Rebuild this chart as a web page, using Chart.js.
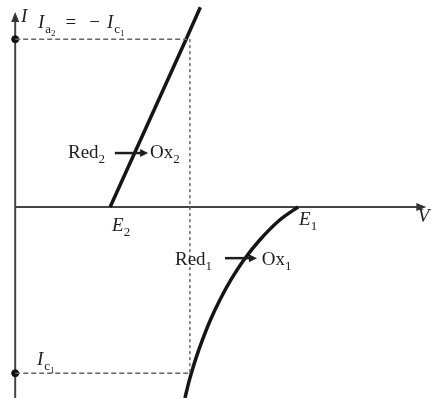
<!DOCTYPE html>
<html>
<head>
<meta charset="utf-8">
<script src="https://cdn.jsdelivr.net/npm/chart.js@4"></script>
<style>
  body { margin: 0; background: #fff; }
  canvas { display: block; }
</style>
</head>
<body>
<canvas id="myChart" width="432" height="398"></canvas>
<script>
// potentials (V) and currents (I) of the two couples
var E2 = 1.0, E1 = 2.98;
var Vmix = 1.84, Ia2 = 2.1, Ic1 = -2.08;

// Red2 -> Ox2 : straight anodic line
var line2V = [1.0, 1.8, 1.95];
var line2I = [0, 2.1, 2.5];

// Red1 -> Ox1 : cathodic curve from E1 going down
var curve1V = [2.98, 2.789, 2.578, 2.41, 2.273, 2.157, 2.057, 1.973, 1.899, 1.836, 1.788];
var curve1I = [0, -0.16, -0.41, -0.66, -0.91, -1.16, -1.41, -1.66, -1.91, -2.16, -2.39];

var xMin = -0.16, xMax = 4.39, yMin = -2.39, yMax = 2.59;
var fontFam = '"Liberation Serif", "DejaVu Serif", serif';

function pts(xs, ys) {
    return xs.map(function (x, i) { return { x: x, y: ys[i] }; });
}

// text pieces: lv 0 = normal, 1 = subscript, 2 = sub-subscript
var labels = [
    { v: 0.06, i: 2.31, runs: [{ t: 'I', it: true }] },
    { v: 0.24, i: 2.24, runs: [{ t: 'I', it: true, gap: 1 }, { t: 'a', lv: 1 }, { t: '2', lv: 2, gap: 10 }, { t: '=', gap: 13 }, { t: '\u2212', gap: 7 }, { t: 'I', it: true, gap: 1 }, { t: 'c', lv: 1 }, { t: '1', lv: 2 }] },
    { v: 0.23, i: -1.975, runs: [{ t: 'I', it: true, gap: 1 }, { t: 'c', lv: 1 }, { t: '1', lv: 2 }] },
    { v: 0.556, i: 0.6125, runs: [{ t: 'Red' }, { t: '2', lv: 1 }] },
    { v: 1.42, i: 0.6125, runs: [{ t: 'Ox' }, { t: '2', lv: 1 }] },
    { v: 1.683, i: -0.725, runs: [{ t: 'Red' }, { t: '1', lv: 1 }] },
    { v: 2.596, i: -0.725, runs: [{ t: 'Ox' }, { t: '1', lv: 1 }] },
    { v: 1.02, i: -0.3, runs: [{ t: 'E', it: true }, { t: '2', lv: 1 }] },
    { v: 2.99, i: -0.22, runs: [{ t: 'E', it: true }, { t: '1', lv: 1 }] },
    { v: 4.24, i: -0.19, runs: [{ t: 'V', it: true }] }
];

// small reaction arrows [from V, to V, at I]
var arrows = [
    [1.05, 1.40, 0.675],
    [2.21, 2.546, -0.64]
];

function drawRuns(ctx, x, y, runs) {
    var cx = x;
    runs.forEach(function (r) {
        var lv = r.lv || 0;
        var size = [19, 13, 9][lv];
        var dy = [0, 5, 8][lv];
        ctx.font = (r.it ? 'italic ' : '') + size + 'px ' + fontFam;
        ctx.fillText(r.t, cx, y + dy);
        cx += ctx.measureText(r.t).width + (r.gap || 0);
    });
}

function arrowHead(ctx, x, y, dir, len, half) {
    ctx.beginPath();
    if (dir === 'right') {
        ctx.moveTo(x, y);
        ctx.lineTo(x - len, y - half);
        ctx.lineTo(x - len, y + half);
    } else {
        ctx.moveTo(x, y);
        ctx.lineTo(x - half, y + len);
        ctx.lineTo(x + half, y + len);
    }
    ctx.closePath();
    ctx.fill();
}

var diagramPlugin = {
    id: 'diagram',
    beforeDatasetsDraw: function (chart) {
        var ctx = chart.ctx;
        var sx = chart.scales.x, sy = chart.scales.y;
        var ox = sx.getPixelForValue(0), oy = sy.getPixelForValue(0);
        ctx.save();
        ctx.strokeStyle = '#444';
        ctx.fillStyle = '#333';
        ctx.lineWidth = 2;
        // V axis
        var xEnd = sx.getPixelForValue(4.33);
        ctx.beginPath();
        ctx.moveTo(ox, oy);
        ctx.lineTo(xEnd - 6, oy);
        ctx.stroke();
        arrowHead(ctx, xEnd, oy, 'right', 10, 4);
        // I axis
        var yEnd = sy.getPixelForValue(2.44);
        ctx.beginPath();
        ctx.moveTo(ox, sy.getPixelForValue(yMin));
        ctx.lineTo(ox, yEnd + 6);
        ctx.stroke();
        arrowHead(ctx, ox, yEnd, 'up', 10, 4);
        ctx.restore();
    },
    afterDatasetsDraw: function (chart) {
        var ctx = chart.ctx;
        var sx = chart.scales.x, sy = chart.scales.y;
        ctx.save();
        ctx.fillStyle = '#1e1e1e';
        ctx.strokeStyle = '#1e1e1e';
        ctx.textBaseline = 'alphabetic';
        ctx.textAlign = 'left';
        labels.forEach(function (l) {
            drawRuns(ctx, sx.getPixelForValue(l.v), sy.getPixelForValue(l.i), l.runs);
        });
        ctx.lineWidth = 2.5;
        arrows.forEach(function (a) {
            var x0 = sx.getPixelForValue(a[0]), x1 = sx.getPixelForValue(a[1]);
            var y = sy.getPixelForValue(a[2]);
            ctx.beginPath();
            ctx.moveTo(x0, y);
            ctx.lineTo(x1 - 5, y);
            ctx.stroke();
            arrowHead(ctx, x1, y, 'right', 8, 4);
        });
        ctx.restore();
    }
};

var dashStyle = { borderColor: '#666', borderWidth: 1.5, pointRadius: 0, showLine: true, fill: false };

new Chart("myChart", {
    type: "scatter",
    data: {
        datasets: [
            Object.assign({ data: pts([0, Vmix - 0.03], [Ia2, Ia2]), borderDash: [5, 3] }, dashStyle),
            Object.assign({ data: pts([Vmix, Vmix], [Ia2, Ic1]), borderDash: [3, 3] }, dashStyle),
            Object.assign({ data: pts([0, Vmix], [Ic1, Ic1]), borderDash: [5, 3] }, dashStyle),
            {
                data: pts(line2V, line2I),
                showLine: true,
                borderColor: '#151515',
                borderWidth: 3.5,
                pointRadius: 0,
                fill: false
            },
            {
                data: pts(curve1V, curve1I),
                showLine: true,
                borderColor: '#151515',
                borderWidth: 3.5,
                pointRadius: 0,
                tension: 0.3,
                fill: false
            },
            {
                data: pts([0, 0], [Ia2, Ic1]),
                showLine: false,
                pointRadius: 3.5,
                pointBackgroundColor: '#111',
                pointBorderColor: '#111'
            }
        ]
    },
    options: {
        responsive: false,
        animation: false,
        devicePixelRatio: 1,
        layout: { padding: 0, autoPadding: false },
        plugins: {
            legend: { display: false },
            tooltip: { enabled: false }
        },
        scales: {
            x: { type: 'linear', min: xMin, max: xMax, display: false },
            y: { type: 'linear', min: yMin, max: yMax, display: false }
        }
    },
    plugins: [diagramPlugin]
});
</script>
</body>
</html>
